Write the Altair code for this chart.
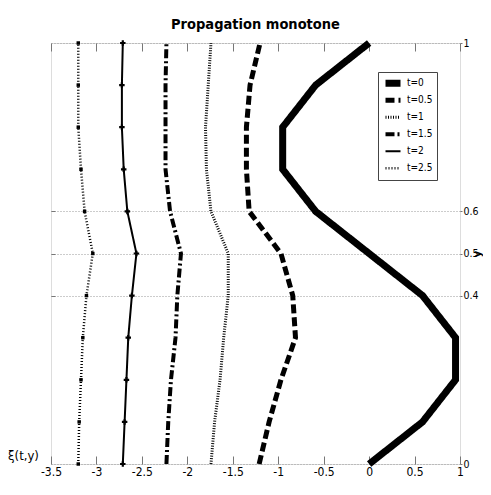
import altair as alt
import pandas as pd

# ---- data ----
y_vals = [0.0, 0.1, 0.2, 0.3, 0.4, 0.5, 0.6, 0.7, 0.8, 0.9, 1.0]
t_labels = ["t=0", "t=0.5", "t=1", "t=1.5", "t=2", "t=2.5"]
xi_t0 = [0.0, 0.588, 0.951, 0.951, 0.588, 0.0, -0.588, -0.951, -0.951, -0.588, 0.0]
xi_t05 = [-1.21, -1.10, -0.97, -0.81, -0.84, -0.97, -1.32, -1.35, -1.35, -1.31, -1.20]
xi_t1 = [-1.74, -1.70, -1.64, -1.60, -1.55, -1.55, -1.74, -1.79, -1.80, -1.77, -1.74]
xi_t15 = [-2.23, -2.21, -2.18, -2.13, -2.11, -2.07, -2.19, -2.24, -2.24, -2.24, -2.23]
xi_t2 = [-2.71, -2.69, -2.67, -2.65, -2.61, -2.56, -2.66, -2.70, -2.72, -2.72, -2.71]
xi_t25 = [-3.20, -3.19, -3.17, -3.15, -3.11, -3.04, -3.13, -3.17, -3.20, -3.20, -3.20]
x_ticks = [-3.5, -3.0, -2.5, -2.0, -1.5, -1.0, -0.5, 0.0, 0.5, 1.0]
y_ticks = [0.0, 0.4, 0.5, 0.6, 1.0]
y_grid = [0.4, 0.5, 0.6]

series = [xi_t0, xi_t05, xi_t1, xi_t15, xi_t2, xi_t25]
rows = []
for lab, xs in zip(t_labels, series):
    for yv, xv in zip(y_vals, xs):
        rows.append({"t": lab, "y": yv, "xi": xv})
df = pd.DataFrame(rows)
df_mark = df[df["t"].isin(["t=2", "t=2.5"])]

FONT = "'Liberation Sans Narrow', 'DejaVu Sans Condensed', 'Liberation Sans', sans-serif"
W, H = 409, 421

xscale = alt.Scale(domain=[-3.5, 1.0], nice=False, zero=False)
yscale = alt.Scale(domain=[0.0, 1.0], nice=False, zero=False)

dash_scale = alt.Scale(type="ordinal", domain=t_labels,
                       range=[[1, 0], [9, 4], [1, 1.5], [9, 3, 2, 3], [1, 0], [1, 2]])
width_scale = alt.Scale(type="ordinal", domain=t_labels, range=[7, 5, 3, 4, 2, 2.5])

legend = alt.Legend(
    title=None, orient="none", legendX=327, legendY=29,
    symbolType="stroke", symbolSize=225, symbolStrokeColor="black",
    labelFont=FONT, labelFontSize=10, labelColor="black", labelOffset=3,
    padding=4, rowPadding=2, clipHeight=14.5,
    strokeColor="#444444", fillColor="white",
)

lines = alt.Chart(df).mark_line(color="black", strokeCap="butt", strokeJoin="miter").encode(
    x=alt.X("xi:Q", scale=xscale, axis=alt.Axis(
        orient="bottom", values=x_ticks, labelExpr="'' + datum.value",
        ticks=False, tickSize=0, domain=False, grid=False, labelPadding=2,
        labelFont=FONT, labelFontSize=12, labelColor="black",
        title="ξ(t,y)", titleX=-28, titleY=-9, titleAlign="center",
        titleBaseline="middle", titleAngle=0, titleFont=FONT,
        titleFontSize=13, titleFontWeight="normal", titleColor="black",
        labelFlush=False, labelOverlap=False)),
    y=alt.Y("y:Q", scale=yscale, axis=alt.Axis(
        orient="right", values=y_ticks, labelExpr="'' + datum.value",
        tickSize=2, tickColor="#777777", domain=False,
        grid=True, gridColor="#999999", gridDash=[1, 2], gridWidth=1,
        labelFont=FONT, labelFontSize=10.5, labelColor="black", labelPadding=1,
        labelFlush=False, labelOverlap=False,
        title="y", titleX=17, titleY=H / 2, titleAngle=270, titleAlign="center",
        titleBaseline="middle", titleFont=FONT, titleFontSize=11,
        titleFontWeight="bold", titleColor="black")),
    order=alt.Order("y:Q"),
    strokeDash=alt.StrokeDash("t:N", scale=dash_scale, legend=legend),
    strokeWidth=alt.StrokeWidth("t:N", scale=width_scale, legend=legend),
)

markers = alt.Chart(df_mark).mark_point(filled=True, color="black", opacity=1).encode(
    x=alt.X("xi:Q", scale=xscale, axis=alt.Axis(
        orient="top", offset=-H, values=x_ticks, labels=False, ticks=True,
        tickSize=8, tickColor="#777777", domain=False, grid=False, title=None)),
    y=alt.Y("y:Q", scale=yscale, axis=alt.Axis(
        orient="right", offset=-W, values=y_grid, labels=False, ticks=True,
        tickSize=4, tickColor="#777777", domain=False, grid=False, title=None)),
    shape=alt.Shape("t:N", scale=alt.Scale(domain=["t=2", "t=2.5"], range=["cross", "square"]),
                    legend=None),
    size=alt.Size("t:N", scale=alt.Scale(type="ordinal", domain=["t=2", "t=2.5"], range=[30, 12]),
                  legend=None),
)

toptick = alt.Chart(df_mark).mark_point(opacity=0).encode(
    x=alt.X("xi:Q", scale=xscale, axis=alt.Axis(
        orient="bottom", offset=-H, values=x_ticks, labels=False, ticks=True,
        tickSize=8, tickColor="#777777", domain=False, grid=False, title=None)),
    y=alt.Y("y:Q", scale=yscale, axis=None),
)

chart = alt.layer(lines, markers, toptick).resolve_axis(
    x="independent", y="independent"
).properties(
    width=W, height=H,
    autosize=alt.AutoSizeParams(type="none"),
    padding={"left": 43, "top": 35, "right": 23, "bottom": 15},
    title=alt.TitleParams("Propagation monotone", font=FONT, fontSize=14.5,
                          fontWeight="bold", anchor="middle", baseline="alphabetic",
                          frame="group", offset=19, dy=33, color="black"),
).configure_view(
    stroke="#808080", strokeWidth=1
).configure(background="white")

chart.save("out.html", embed_options={"renderer": "svg", "actions": False})
